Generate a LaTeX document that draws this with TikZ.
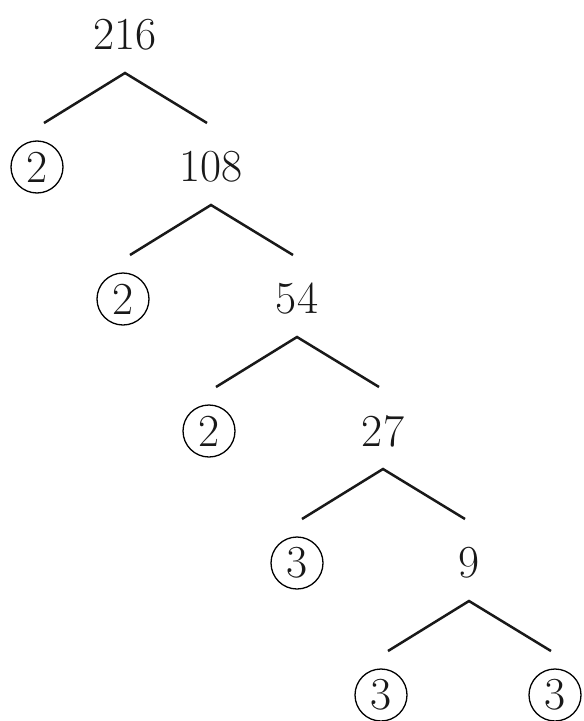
\documentclass[tikz,border=0pt]{standalone}
\usepackage{tikz}
\usetikzlibrary{positioning}

\begin{document}
\begin{tikzpicture}[x=1bp,y=1bp,on grid,node distance=132bp and 86bp,
    num/.style={inner sep=0pt,text=black!90,font=\fontsize{46}{52}\selectfont},
    prime/.style={num,circle,draw,line width=1.3bp,minimum size=52bp},
    branch/.style={line width=2.5bp,black!90}]
        \useasboundingbox (0,0) rectangle (584,-721);
        \node[num] (n216) at (125,-35) {216};
        \node[num] (n108) [below right=of n216] {108};
        \node[num] (n54)  [below right=of n108] {54};
        \node[num] (n27)  [below right=of n54] {27};
        \node[num] (n9)   [below right=of n27] {9};

        \node[prime] (p1) [left=174bp of n108] {2};
        \node[prime] (p2) [left=174bp of n54] {2};
        \node[prime] (p3) [left=174bp of n27] {2};
        \node[prime] (p4) [left=172bp of n9] {3};
        \node[prime] (p6) [below right=of n9] {3};
        \node[prime] (p5) [left=174bp of p6] {3};

        \foreach \n in {216,108,54,27,9} {
            \coordinate[below=38bp of n\n] (t\n);
            \coordinate[below left=50bp and 81bp of t\n] (l\n);
            \coordinate[below right=50bp and 82bp of t\n] (r\n);
            \draw[branch] (l\n) -- (t\n) -- (r\n);
        }
    \end{tikzpicture}
\end{document}
